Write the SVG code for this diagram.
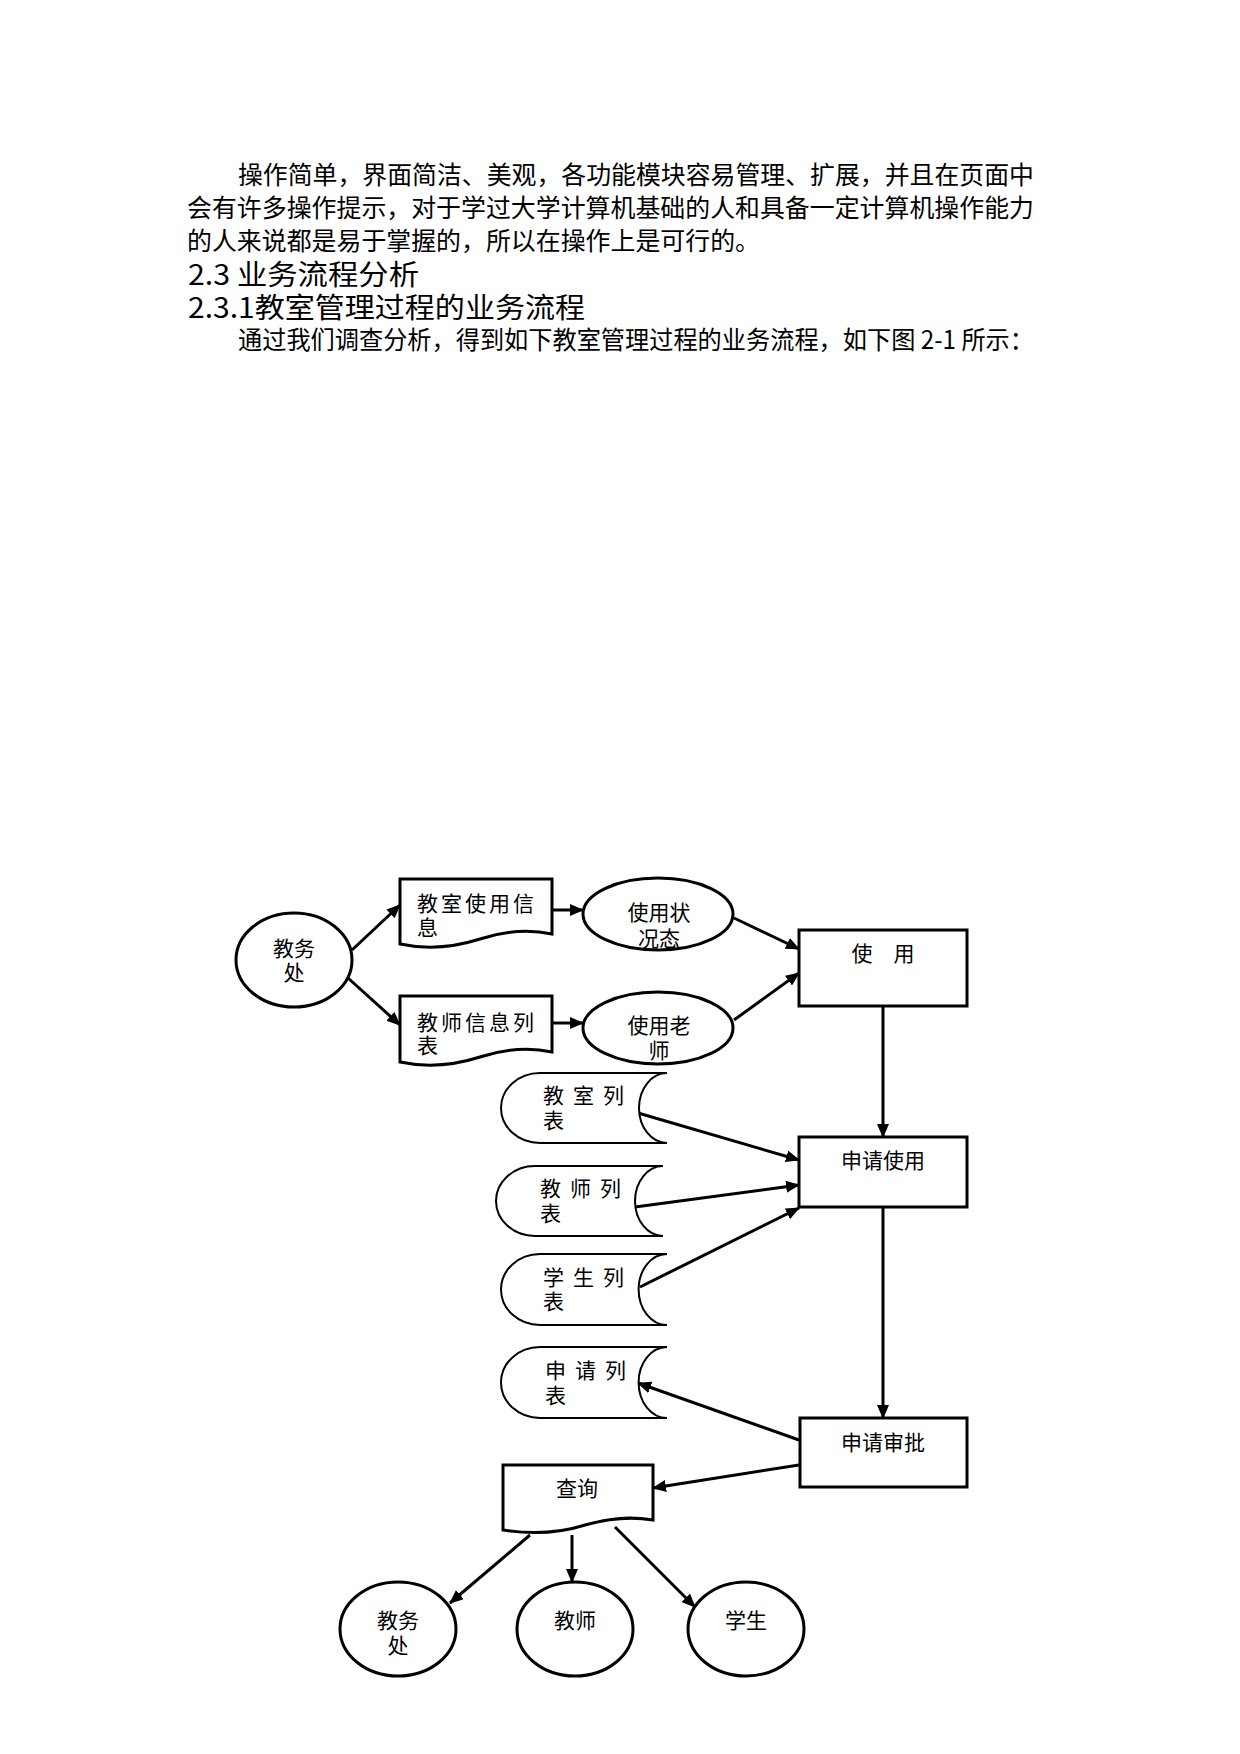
<svg xmlns="http://www.w3.org/2000/svg" width="1240" height="1754" viewBox="0 0 1240 1754">
<defs>
<style>
.body{font-family:"Noto Sans CJK SC","Liberation Sans",sans-serif;font-size:25px;fill:#000}
.head{font-family:"Noto Sans CJK SC","Liberation Sans",sans-serif;font-size:28px;fill:#000}
.lbl{font-family:"Noto Sans CJK SC","Liberation Sans",sans-serif;font-size:21px;fill:#000}
.mid{text-anchor:middle}
.thick{fill:#fff;stroke:#000;stroke-width:3}
.thin{fill:#fff;stroke:#000;stroke-width:2}
.conn{fill:none;stroke:#000;stroke-width:3;marker-end:url(#arr)}
</style>
<marker id="arr" markerUnits="userSpaceOnUse" markerWidth="14" markerHeight="12" refX="13" refY="6" orient="auto">
<path d="M0,0 L14,6 L0,12 Z" fill="#000"/>
</marker>
</defs>
<rect width="1240" height="1754" fill="#fff"/>

<g id="text-block">
<text class="body"><tspan x="238" y="184" textLength="796" lengthAdjust="spacingAndGlyphs">操作简单，界面简洁、美观，各功能模块容易管理、扩展，并且在页面中</tspan><tspan x="187" y="217" textLength="847" lengthAdjust="spacingAndGlyphs">会有许多操作提示，对于学过大学计算机基础的人和具备一定计算机操作能力</tspan><tspan x="187" y="250" textLength="573" lengthAdjust="spacingAndGlyphs">的人来说都是易于掌握的，所以在操作上是可行的。</tspan></text>
<text class="head" x="188" y="285" textLength="231" lengthAdjust="spacingAndGlyphs">2.3 业务流程分析</text>
<text class="head" x="188" y="318" textLength="397" lengthAdjust="spacingAndGlyphs">2.3.1教室管理过程的业务流程</text>
<text class="body" x="238" y="349" textLength="796" lengthAdjust="spacingAndGlyphs">通过我们调查分析，得到如下教室管理过程的业务流程，如下图 2-1 所示：</text>
</g>

<g id="connectors">
<line class="conn" x1="352" y1="950" x2="400" y2="905"/>
<line class="conn" x1="348" y1="978" x2="400" y2="1025"/>
<line class="conn" x1="552" y1="910" x2="583" y2="910"/>
<line class="conn" x1="552" y1="1023" x2="583" y2="1023"/>
<line class="conn" x1="734" y1="918" x2="799" y2="949"/>
<line class="conn" x1="734" y1="1020" x2="799" y2="973"/>
<line class="conn" x1="883" y1="1006" x2="883" y2="1137"/>
<line class="conn" x1="638" y1="1113" x2="799" y2="1160"/>
<line class="conn" x1="635" y1="1207" x2="799" y2="1185"/>
<line class="conn" x1="640" y1="1287" x2="799" y2="1208"/>
<line class="conn" x1="883" y1="1207" x2="883" y2="1418"/>
<line class="conn" x1="799" y1="1440" x2="638" y2="1383"/>
<line class="conn" x1="799" y1="1465" x2="653" y2="1488"/>
<line class="conn" x1="530" y1="1535" x2="450" y2="1603"/>
<line class="conn" x1="572" y1="1535" x2="572" y2="1582"/>
<line class="conn" x1="615" y1="1527" x2="695" y2="1607"/>
</g>

<g id="node-jwc-top">
<ellipse class="thick" cx="294" cy="960" rx="58" ry="47"/>
<text class="lbl mid"><tspan x="294" y="956">教务</tspan><tspan x="294" y="980">处</tspan></text>
</g>

<g id="node-classroom-info">
<path class="thick" d="M400,879 H552 V934 C528,929 505,931 480,939 C455,947 428,950 400,944 Z"/>
<text class="lbl"><tspan x="417" y="911" letter-spacing="3">教室使用信</tspan><tspan x="417" y="935">息</tspan></text>
</g>

<g id="node-teacher-info">
<path class="thick" d="M400,996 H552 V1052 C528,1047 505,1049 480,1057 C455,1065 428,1068 400,1062 Z"/>
<text class="lbl"><tspan x="417" y="1030" letter-spacing="3">教师信息列</tspan><tspan x="417" y="1053">表</tspan></text>
</g>

<g id="node-status">
<ellipse class="thick" cx="658" cy="914" rx="75" ry="36"/>
<text class="lbl mid"><tspan x="659" y="920">使用状</tspan><tspan x="659" y="946">况态</tspan></text>
</g>

<g id="node-teacher-use">
<ellipse class="thick" cx="658" cy="1028" rx="75" ry="36"/>
<text class="lbl mid"><tspan x="659" y="1033">使用老</tspan><tspan x="659" y="1058">师</tspan></text>
</g>

<g id="node-use">
<rect class="thick" x="799" y="930" width="168" height="76"/>
<text class="lbl mid" x="883" y="961">使　用</text>
</g>

<g id="node-classroom-list">
<path class="thin" d="M540,1073 H667 A28,35 0 0 0 667,1143 H540 A39,35 0 0 1 540,1073 Z"/>
<text class="lbl"><tspan x="543" y="1103" letter-spacing="9">教室列</tspan><tspan x="543" y="1128">表</tspan></text>
</g>

<g id="node-teacher-list">
<path class="thin" d="M535,1166 H663 A28,35 0 0 0 663,1236 H535 A39,35 0 0 1 535,1166 Z"/>
<text class="lbl"><tspan x="540" y="1196" letter-spacing="9">教师列</tspan><tspan x="540" y="1221">表</tspan></text>
</g>

<g id="node-student-list">
<path class="thin" d="M540,1254 H667 A28,35 0 0 0 667,1325 H540 A39,35.5 0 0 1 540,1254 Z"/>
<text class="lbl"><tspan x="543" y="1285" letter-spacing="9">学生列</tspan><tspan x="543" y="1309">表</tspan></text>
</g>

<g id="node-apply-list">
<path class="thin" d="M540,1347 H667 A28,35 0 0 0 667,1418 H540 A39,35.5 0 0 1 540,1347 Z"/>
<text class="lbl"><tspan x="545" y="1378" letter-spacing="9">申请列</tspan><tspan x="545" y="1403">表</tspan></text>
</g>

<g id="node-apply-use">
<rect class="thick" x="799" y="1137" width="168" height="70"/>
<text class="lbl mid" x="883" y="1168">申请使用</text>
</g>

<g id="node-approve">
<rect class="thick" x="800" y="1418" width="167" height="69"/>
<text class="lbl mid" x="883" y="1450">申请审批</text>
</g>

<g id="node-query">
<path class="thick" d="M503,1465 H653 V1520 C630,1516 610,1518 585,1525 C560,1533 535,1535 503,1530 Z"/>
<text class="lbl mid" x="577" y="1496">查询</text>
</g>

<g id="node-jwc-bottom">
<ellipse class="thick" cx="398" cy="1629" rx="58" ry="47"/>
<text class="lbl mid"><tspan x="398" y="1628">教务</tspan><tspan x="398" y="1653">处</tspan></text>
</g>

<g id="node-teacher">
<ellipse class="thick" cx="575" cy="1629" rx="58" ry="47"/>
<text class="lbl mid" x="575" y="1628">教师</text>
</g>

<g id="node-student">
<ellipse class="thick" cx="746" cy="1629" rx="58" ry="47"/>
<text class="lbl mid" x="746" y="1628">学生</text>
</g>
</svg>
